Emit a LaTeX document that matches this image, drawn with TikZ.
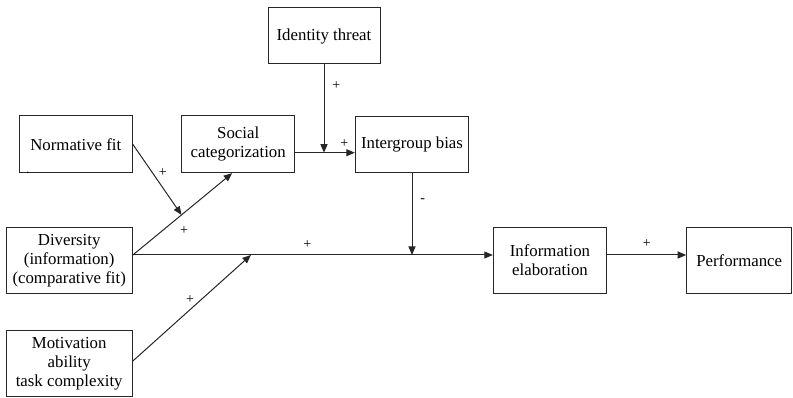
\documentclass[tikz,border=0pt]{standalone}
\usepackage{fontspec}
\setmainfont{Liberation Serif}
\usetikzlibrary{arrows.meta,calc}
\begin{document}
\begin{tikzpicture}[x=1pt,y=-1pt,
  box/.style={draw=black!85,line width=1pt,rectangle,inner sep=2pt,align=center,
    font=\fontsize{16.8}{19}\selectfont},
  conn/.style={draw=black!85,line width=1pt},
  arr/.style={conn,-{Triangle[length=8.5pt,width=7pt]}},
  sign/.style={font=\fontsize{14}{14}\selectfont,inner sep=0pt}]
\useasboundingbox (0,0) rectangle (793,398);
% boxes
\node[box,minimum width=112pt,minimum height=56pt] (idt) at (324,36) {Identity threat};
\node[box,minimum width=113.4pt,minimum height=56pt] (igb) at (412,144.7) {Intergroup bias};
\node[box,minimum width=113pt,minimum height=56.7pt] (soc) at (238.2,144.3) {Social\\categorization};
\node[box,minimum width=113pt,minimum height=56.7pt] (norm) at (75.8,144.3) {Normative fit};
\node[box,minimum width=126.3pt,minimum height=66pt] (div) at (69.2,260.3) {Diversity\\(information)\\(comparative fit)};
\node[box,minimum width=126.3pt,minimum height=66pt] (mot) at (69.2,363.7) {Motivation\\ability\\task complexity};
\node[box,minimum width=113.4pt,minimum height=66pt] (inf) at (550,260.3) {Information\\elaboration};
\node[box,minimum width=105pt,minimum height=66pt] (perf) at (739.2,260.3) {Performance};
% anchor coordinates
\coordinate (divout) at ([yshift=5.3pt]div.east);
\coordinate (infin) at (inf.west |- divout);
\coordinate (socin) at ([xshift=-6pt]soc.south);
\coordinate (socout) at ([yshift=-8.4pt]soc.east);
\coordinate (igbin) at (igb.west |- socout);
\coordinate (perfin) at (perf.west |- divout);
\coordinate (infout) at (inf.east |- divout);
\coordinate (motout) at ([yshift=2.7pt]mot.east);
\path (divout) -- (socin) coordinate[pos=0.49] (j1);
\path (divout) -- (infin) coordinate[pos=0.328] (j2);
\coordinate (j3) at (igb.south |- divout);
\coordinate (j4) at (idt.south |- socout);
% connectors
\draw[arr] (divout) -- (socin);
\draw[arr] (norm.east) -- (j1);
\draw[arr] (divout) -- (infin);
\draw[arr] (motout) -- (j2);
\draw[arr] (igb.south) -- (j3);
\draw[arr] (socout) -- (igbin);
\draw[arr] (idt.south) -- (j4);
\draw[arr] (infout) -- (perfin);
% signs
\node[sign] (s1) at (336.3,86) {+};
\node[sign] (s2) at (344.3,144) {+};
\node[sign] (s3) at (422.7,200.7) {-};
\node[sign] (s4) at (646.7,244) {+};
\node[sign] (s5) at (307.3,244.3) {+};
\node[sign] (s6) at (184,230.7) {+};
\node[sign] (s7) at (162.7,172.7) {+};
\node[sign] (s8) at (190,299.3) {+};
\node[sign] (s9) at (28,173) {.};
\end{tikzpicture}
\end{document}
